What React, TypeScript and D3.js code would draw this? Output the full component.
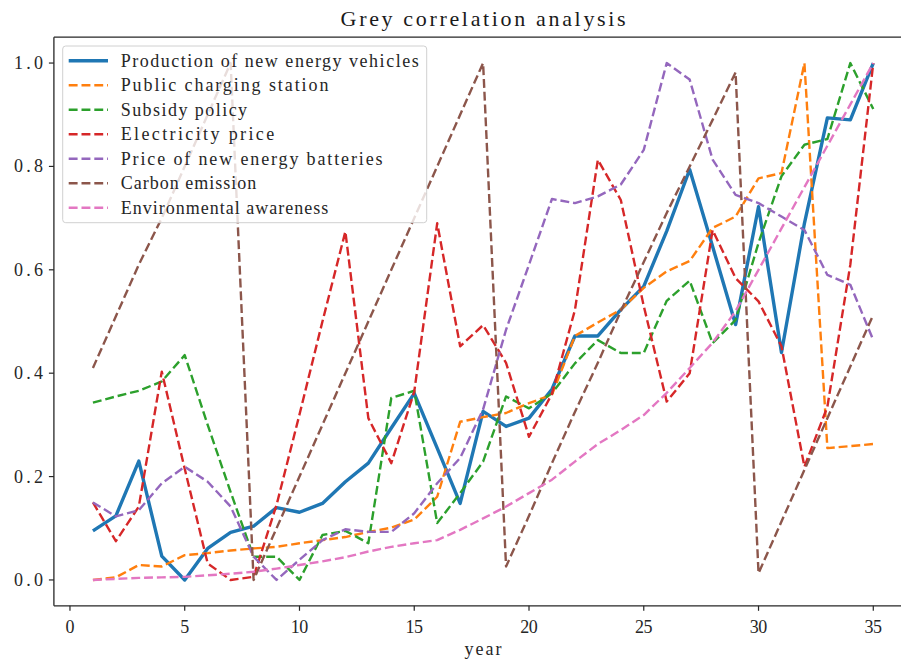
import React from 'react';
import * as d3 from 'd3';

// data
const years = d3.range(1, 36);

const production = [0.095, 0.124, 0.23, 0.046, 0.0, 0.061, 0.092, 0.104, 0.14, 0.131, 0.148, 0.19, 0.226, 0.294, 0.361, 0.255, 0.148, 0.326, 0.297, 0.313, 0.369, 0.472, 0.472, 0.523, 0.568, 0.675, 0.794, 0.645, 0.494, 0.722, 0.44, 0.69, 0.894, 0.89, 1.0];
const charging = [0.0, 0.005, 0.029, 0.026, 0.048, 0.052, 0.057, 0.061, 0.064, 0.071, 0.077, 0.083, 0.093, 0.101, 0.117, 0.161, 0.306, 0.315, 0.323, 0.342, 0.358, 0.472, 0.498, 0.523, 0.565, 0.597, 0.617, 0.681, 0.703, 0.777, 0.787, 1.0, 0.255, 0.259, 0.263];
const subsidy = [0.343, 0.355, 0.366, 0.384, 0.435, 0.3, 0.17, 0.045, 0.045, 0.0, 0.087, 0.095, 0.071, 0.352, 0.366, 0.11, 0.168, 0.229, 0.355, 0.332, 0.361, 0.419, 0.464, 0.439, 0.439, 0.54, 0.579, 0.458, 0.503, 0.652, 0.781, 0.842, 0.853, 1.0, 0.911];
const electricity = [0.15, 0.075, 0.142, 0.403, 0.215, 0.032, 0.0, 0.006, 0.145, 0.32, 0.5, 0.674, 0.313, 0.226, 0.364, 0.69, 0.452, 0.493, 0.42, 0.277, 0.36, 0.522, 0.813, 0.735, 0.53, 0.345, 0.4, 0.677, 0.584, 0.539, 0.452, 0.219, 0.335, 0.61, 1.0];
const battery = [0.15, 0.123, 0.135, 0.187, 0.219, 0.19, 0.142, 0.045, 0.0, 0.039, 0.077, 0.098, 0.093, 0.093, 0.129, 0.187, 0.236, 0.33, 0.484, 0.61, 0.737, 0.729, 0.742, 0.765, 0.832, 1.0, 0.968, 0.813, 0.745, 0.729, 0.703, 0.677, 0.59, 0.571, 0.464];
const carbon = [0.41, 0.51, 0.61, 0.7, 0.8, 0.9, 1.0, 0.0, 0.1, 0.2, 0.3, 0.4, 0.5, 0.6, 0.7, 0.8, 0.9, 1.0, 0.026, 0.124, 0.226, 0.325, 0.42, 0.52, 0.615, 0.71, 0.8, 0.89, 0.982, 0.013, 0.113, 0.213, 0.313, 0.413, 0.513];
const awareness = [0.0, 0.002, 0.004, 0.005, 0.006, 0.009, 0.012, 0.016, 0.022, 0.029, 0.036, 0.044, 0.055, 0.064, 0.071, 0.077, 0.097, 0.119, 0.142, 0.168, 0.194, 0.229, 0.263, 0.29, 0.319, 0.362, 0.41, 0.459, 0.52, 0.6, 0.68, 0.76, 0.84, 0.92, 1.0];

const seriesNames = [
  'Production of new energy vehicles',
  'Public charging station',
  'Subsidy policy',
  'Electricity price',
  'Price of new energy batteries',
  'Carbon emission',
  'Environmental awareness',
];
const seriesValues = [production, charging, subsidy, electricity, battery, carbon, awareness];
const colors = ['#1f77b4', '#ff7f0e', '#2ca02c', '#d62728', '#9467bd', '#8c564b', '#e377c2'];

const xTicks = [0, 5, 10, 15, 20, 25, 30, 35];
const yTicks = [0, 0.2, 0.4, 0.6, 0.8, 1.0];

const titleText = 'Grey correlation analysis';
const xLabel = 'year';

const width = 901;
const height = 660;
const font = '"Liberation Serif", "DejaVu Serif", serif';

export default function App() {
  const x = d3.scaleLinear().domain([-0.7, 36.7]).range([53.9, 912.3]);
  const y = d3.scaleLinear().domain([-0.05, 1.05]).range([605.8, 37.2]);
  const [left, right] = x.range();
  const [bottom, top] = y.range();

  const line = d3.line<number>()
    .x((d, i) => x(years[i]))
    .y(d => y(d));

  // legend geometry
  const legX = 62.7;
  const legY = 46;
  const legRow = 24.5;

  return (
    <svg width={width} height={height} style={{ position: 'absolute', left: 0, top: 0, background: '#fff' }}
      fontFamily={font}>
      <rect x={0} y={0} width={width} height={height} fill="#fff" />

      <defs>
        <clipPath id="plot-area">
          <rect x={left} y={top} width={right - left} height={bottom - top} />
        </clipPath>
      </defs>

      {/* Lines */}
      <g clipPath="url(#plot-area)">
        {seriesValues.map((vals, i) => (
          <path key={seriesNames[i]}
            d={line(vals) || ''}
            fill="none"
            stroke={colors[i]}
            strokeWidth={i === 0 ? 3.4 : 2.4}
            strokeDasharray={i === 0 ? undefined : '8.9 3.9'}
            strokeLinejoin="round" />
        ))}
      </g>

      {/* Spines */}
      <g stroke="#262626" strokeWidth={1.3} fill="none">
        <line x1={left} y1={top} x2={left} y2={bottom} />
        <line x1={left} y1={bottom} x2={right} y2={bottom} />
        <line x1={left} y1={top} x2={right} y2={top} />
        <line x1={right} y1={top} x2={right} y2={bottom} />
      </g>

      {/* x-axis */}
      <g>
        {xTicks.map(t => (
          <g key={t} transform={`translate(${x(t)},${bottom})`}>
            <line y2={5} stroke="#262626" strokeWidth={1.2} />
            <text y={27} textAnchor="middle" fontSize={18} fill="#262626"
              textLength={String(t).length * 8.8} lengthAdjust="spacing">{t}</text>
          </g>
        ))}
        <text x={(left + right) / 2} y={655} textAnchor="middle" fontSize={18} fill="#262626"
          textLength={37} lengthAdjust="spacing">{xLabel}</text>
      </g>

      {/* y-axis */}
      <g>
        {yTicks.map(t => (
          <g key={t} transform={`translate(${left},${y(t)})`}>
            <line x2={-5} stroke="#262626" strokeWidth={1.2} />
            <text x={-11} y={6} textAnchor="end" fontSize={18} fill="#262626"
              textLength={29} lengthAdjust="spacing">{t.toFixed(1)}</text>
          </g>
        ))}
      </g>

      {/* Title */}
      <text x={(left + right) / 2} y={26} textAnchor="middle" fontSize={22} fill="#1a1a1a"
        textLength={titleText.length * 11.4} lengthAdjust="spacing">{titleText}</text>

      {/* Legend */}
      <g>
        <rect x={legX} y={legY} width={364} height={176.7} rx={3}
          fill="#fff" fillOpacity={0.8} stroke="#d0d0d0" strokeWidth={1} />
        {seriesNames.map((name, i) => {
          const cy = 60.7 + i * legRow;
          return (
            <g key={name}>
              <line x1={68.7} x2={108} y1={cy} y2={cy}
                stroke={colors[i]}
                strokeWidth={i === 0 ? 3.4 : 2.4}
                strokeDasharray={i === 0 ? undefined : '8.9 3.9'} />
              <text x={120.7} y={cy + 6} fontSize={18} fill="#262626"
                textLength={name.length * 9.03} lengthAdjust="spacing">{name}</text>
            </g>
          );
        })}
      </g>
    </svg>
  );
}
